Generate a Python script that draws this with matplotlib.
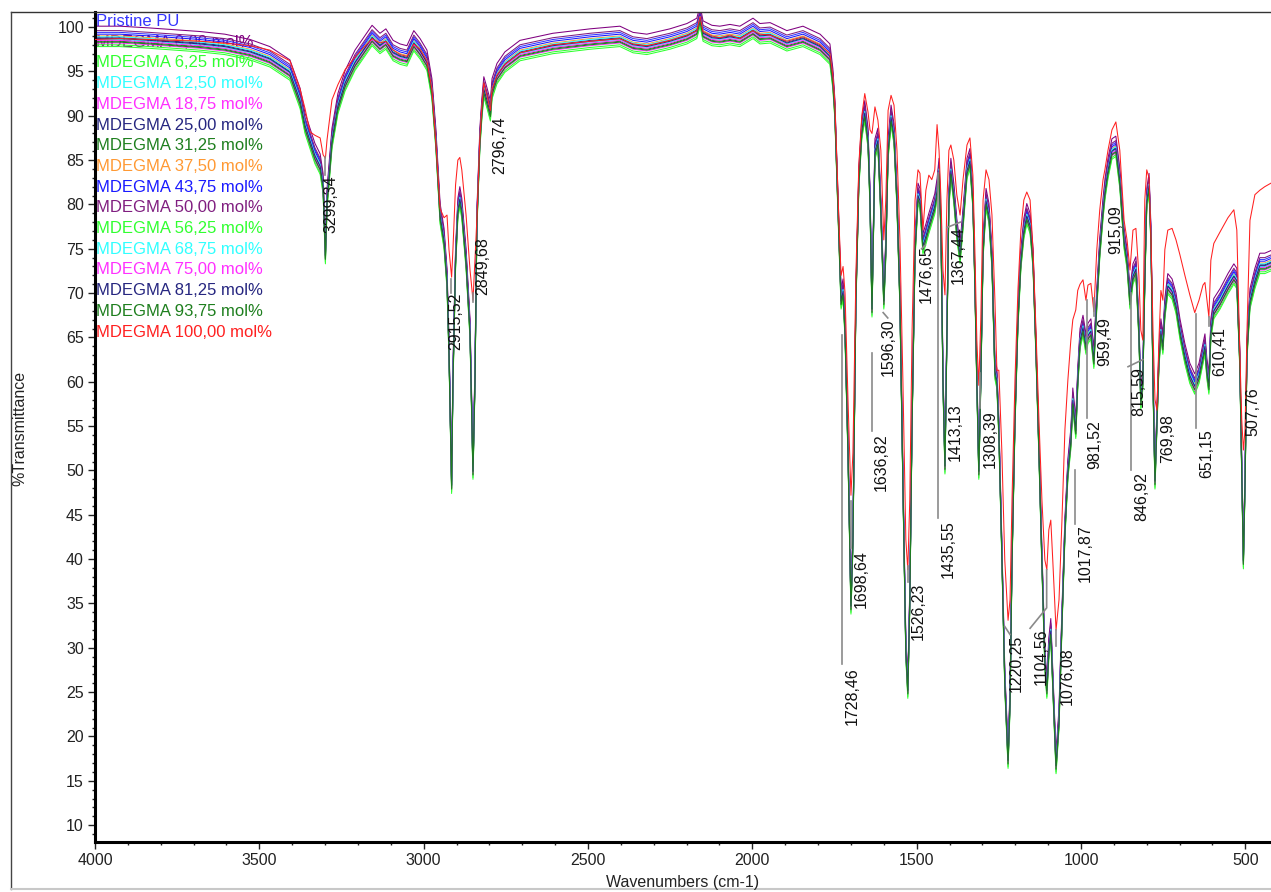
import matplotlib
matplotlib.use("Agg")
import numpy as np
import matplotlib.pyplot as plt
from matplotlib.lines import Line2D

plt.rcParams["font.family"] = ["Liberation Sans", "DejaVu Sans"]

# ---------------------------------------------------------------- data
wavenumber = [
    4000, 3924, 3833, 3757, 3681, 3605, 3528, 3468, 3407, 3376, 3361, 3346, 3331, 3315,
    3306, 3299, 3294, 3279, 3261, 3239, 3209, 3185, 3157, 3133, 3115, 3093, 3072, 3051,
    3030, 3011, 2990, 2975, 2963, 2950, 2938, 2929, 2923, 2915, 2911, 2903, 2896, 2890,
    2884, 2871, 2859, 2850, 2844, 2838, 2829, 2823, 2817, 2807, 2797, 2792, 2777, 2753,
    2707, 2607, 2494, 2403, 2363, 2321, 2251, 2199, 2169, 2159, 2150, 2123, 2099, 2068,
    2038, 1998, 1977, 1946, 1895, 1846, 1794, 1764, 1755, 1749, 1743, 1736, 1730, 1724,
    1718, 1709, 1700, 1694, 1685, 1676, 1667, 1658, 1648, 1642, 1636, 1627, 1618, 1609,
    1600, 1594, 1587, 1578, 1569, 1560, 1551, 1542, 1533, 1527, 1521, 1514, 1505, 1496,
    1490, 1481, 1472, 1463, 1454, 1445, 1438, 1432, 1426, 1420, 1414, 1408, 1402, 1396,
    1387, 1378, 1368, 1359, 1347, 1338, 1329, 1323, 1317, 1311, 1305, 1298, 1289, 1280,
    1271, 1262, 1256, 1250, 1241, 1232, 1222, 1216, 1210, 1201, 1192, 1183, 1174, 1165,
    1155, 1146, 1137, 1128, 1119, 1110, 1104, 1098, 1092, 1086, 1076, 1067, 1058, 1049,
    1040, 1031, 1025, 1016, 1010, 1003, 994, 985, 979, 970, 961, 952, 943, 933,
    927, 918, 906, 894, 882, 869, 860, 851, 842, 833, 824, 818, 812, 806,
    800, 793, 787, 781, 775, 769, 763, 757, 751, 745, 736, 723, 711, 699,
    684, 669, 654, 641, 629, 623, 617, 611, 605, 596, 577, 553, 535, 526,
    517, 511, 506, 501, 495, 486, 471, 456, 441, 422,
]

# shared trace of the PU / MDEGMA copolymer spectra (%T)
t_common = [
    98.8, 98.8, 98.6, 98.4, 98.2, 97.9, 97.3, 96.5, 95.0, 91.8, 89.0, 87.3, 85.6, 84.4,
    82.2, 74.3, 80.5, 87.3, 91.2, 93.8, 96.1, 97.4, 98.9, 98.0, 98.5, 97.2, 96.8, 96.6,
    98.3, 97.4, 96.1, 92.9, 87.3, 78.8, 76.0, 71.5, 63.6, 48.4, 60.2, 73.7, 79.4, 80.7,
    79.4, 73.7, 65.8, 50.0, 60.2, 78.2, 87.3, 90.6, 93.1, 91.8, 90.4, 92.9, 94.6, 95.9,
    97.2, 98.0, 98.5, 98.8, 98.1, 97.9, 98.5, 99.1, 99.7, 101.1, 99.4, 98.9, 98.8, 99.0,
    98.8, 99.7, 99.1, 99.2, 98.3, 98.8, 97.9, 96.8, 94.0, 90.6, 83.9, 76.0, 69.2, 70.3,
    65.8, 52.3, 34.8, 42.2, 69.2, 82.8, 88.4, 90.4, 87.3, 80.5, 68.3, 86.1, 87.3, 79.4,
    69.2, 74.9, 86.1, 89.9, 87.8, 80.5, 69.2, 48.9, 29.8, 25.3, 35.4, 55.7, 74.9, 81.1,
    80.5, 75.4, 76.5, 77.7, 78.8, 79.9, 81.6, 83.9, 77.1, 60.2, 50.6, 65.8, 80.5, 83.9,
    81.1, 77.1, 74.3, 78.2, 83.9, 85.0, 80.5, 71.5, 60.2, 50.0, 60.2, 74.9, 80.5, 78.8,
    73.7, 61.3, 60.2, 54.6, 41.0, 26.4, 17.4, 24.1, 39.9, 55.7, 67.0, 73.7, 77.1, 78.8,
    77.7, 73.7, 63.6, 52.3, 39.9, 28.6, 25.3, 29.8, 32.0, 26.4, 16.8, 21.9, 33.1, 43.3,
    50.0, 53.4, 58.0, 54.6, 60.2, 64.7, 66.2, 64.1, 65.3, 65.8, 62.5, 69.2, 74.9, 79.4,
    81.6, 83.9, 86.1, 86.4, 82.8, 76.0, 73.7, 69.2, 72.0, 72.8, 65.8, 57.9, 60.2, 71.5,
    80.5, 82.2, 76.0, 60.2, 48.9, 55.7, 62.5, 65.8, 64.1, 68.1, 70.9, 70.3, 68.7, 65.8,
    63.0, 60.8, 59.6, 60.8, 63.0, 64.1, 61.3, 59.6, 65.8, 68.1, 69.2, 70.9, 72.0, 71.5,
    62.5, 50.0, 39.9, 48.9, 63.6, 69.2, 71.5, 73.2, 73.2, 73.5,
]

# MDEGMA 100,00 mol% (%T)
t_100 = [
    98.6, 98.7, 98.6, 98.5, 98.4, 98.2, 97.9, 97.4, 96.2, 93.0, 90.8, 88.2, 87.8, 87.5,
    85.6, 85.2, 87.3, 91.8, 93.5, 95.2, 96.6, 97.6, 98.7, 98.2, 98.4, 97.4, 96.9, 96.7,
    98.1, 97.5, 96.2, 93.0, 87.0, 79.5, 78.5, 78.8, 74.9, 71.8, 74.9, 82.2, 85.0, 85.3,
    83.9, 78.8, 72.6, 69.2, 73.7, 78.5, 87.5, 91.0, 93.7, 92.2, 90.6, 93.0, 94.6, 95.8,
    97.1, 98.0, 98.4, 98.7, 98.1, 97.9, 98.5, 99.1, 99.6, 101.2, 99.5, 99.0, 98.8, 99.1,
    98.7, 99.6, 99.2, 99.1, 98.4, 98.9, 98.0, 97.0, 94.5, 91.5, 85.0, 77.5, 72.0, 73.0,
    70.0, 58.0, 47.2, 52.0, 72.0, 84.5, 90.0, 92.5, 90.4, 88.4, 88.0, 91.0, 89.5, 86.1,
    76.0, 80.5, 90.6, 92.3, 91.2, 86.1, 76.0, 60.2, 42.2, 38.8, 46.7, 65.8, 80.5, 83.9,
    83.5, 77.1, 81.6, 83.3, 82.8, 83.9, 89.0, 86.1, 80.5, 72.6, 69.8, 80.5, 86.1, 86.7,
    85.0, 81.1, 78.8, 82.8, 86.7, 87.5, 83.3, 74.9, 64.7, 59.6, 67.0, 80.5, 83.9, 82.8,
    78.8, 69.2, 61.3, 61.3, 52.3, 39.9, 33.1, 35.4, 46.7, 60.2, 70.3, 77.1, 80.5, 81.4,
    80.5, 74.9, 65.8, 55.7, 46.7, 39.9, 38.8, 43.3, 44.4, 39.9, 32.0, 35.4, 44.4, 54.6,
    60.2, 64.7, 67.0, 68.1, 70.3, 71.0, 71.5, 69.2, 70.9, 71.1, 67.9, 74.9, 79.4, 82.8,
    84.0, 86.1, 88.4, 89.3, 86.1, 78.2, 76.0, 72.6, 77.1, 77.3, 72.0, 65.8, 64.7, 80.5,
    83.9, 83.0, 76.0, 65.8, 58.0, 56.8, 64.7, 70.3, 69.2, 74.9, 77.1, 77.3, 76.0, 74.3,
    72.0, 69.8, 67.8, 69.2, 70.9, 71.2, 69.2, 67.3, 73.7, 75.6, 76.9, 78.5, 79.4, 77.1,
    63.6, 55.7, 52.3, 54.6, 65.8, 78.2, 81.1, 81.6, 82.0, 82.4,
]

series_names = [
    "Pristine PU",
    "MDEGMA 0,00 mol%", "MDEGMA 6,25 mol%", "MDEGMA 12,50 mol%", "MDEGMA 18,75 mol%",
    "MDEGMA 25,00 mol%", "MDEGMA 31,25 mol%", "MDEGMA 37,50 mol%", "MDEGMA 43,75 mol%",
    "MDEGMA 50,00 mol%", "MDEGMA 56,25 mol%", "MDEGMA 68,75 mol%", "MDEGMA 75,00 mol%",
    "MDEGMA 81,25 mol%", "MDEGMA 93,75 mol%", "MDEGMA 100,00 mol%",
]

# baseline level of each spectrum relative to the shared trace (%T)
series_level = [0.6, 1.3, -0.8, -0.2, -0.6, 0.0, -0.4, 0.2, 0.4, 0.8, -1.0, 0.1, -0.3, -0.1, -0.5]

series_colors = [
    "#3535ff", "#800080", "#30ff30", "#30ffff", "#ff30ff", "#262680", "#1e7f1e", "#ff9933",
    "#1a1aff", "#801e80", "#30ff30", "#30ffff", "#ff30ff", "#262680", "#1e7f1e", "#ff2020",
]

peak_wavenumbers = [
    3299.34, 2915.52, 2849.68, 2796.74, 1728.46, 1698.64, 1636.82, 1596.30, 1526.23,
    1476.65, 1435.55, 1413.13, 1367.44, 1308.39, 1220.25, 1104.56, 1076.08, 1017.87,
    981.52, 959.49, 915.09, 846.92, 815.59, 769.98, 651.15, 610.41, 507.76,
]

# ---------------------------------------------------------------- label layout
# (label centre wavenumber, label top %T, leader polyline or None)
label_layout = {
    3299.34: (3283, 83.3, [(3299.34, 85.4), (3299.34, 83.3)]),
    2915.52: (2902, 70.0, [(2915.52, 71.6), (2915.52, 70.0)]),
    2849.68: (2821, 76.3, [(2849.68, 70.0), (2849.68, 69.0)]),
    2796.74: (2768, 89.9, None),
    1728.46: (1697, 27.8, [(1728.46, 65.3), (1728.46, 28.2)]),
    1698.64: (1668, 41.0, [(1698.64, 46.5), (1698.64, 41.2)]),
    1636.82: (1607, 54.2, [(1636.82, 63.2), (1636.82, 54.4)]),
    1596.30: (1586, 67.2, [(1602, 67.8), (1588, 67.2)]),
    1526.23: (1495, 37.3, [(1526.23, 39.2), (1526.23, 37.4)]),
    1476.65: (1470, 75.4, [(1485, 75.0), (1474, 75.4)]),
    1435.55: (1403, 44.4, [(1435.55, 83.5), (1435.55, 44.6)]),
    1413.13: (1384, 57.6, None),
    1367.44: (1373, 77.5, [(1408, 77.4), (1367.44, 78.0)]),
    1308.39: (1277, 56.8, [(1308.39, 61.0), (1308.39, 57.0)]),
    1220.25: (1196, 31.5, [(1232, 32.4), (1216, 31.5)]),
    1104.56: (1120, 32.2, [(1104.56, 38.8), (1104.56, 34.5), (1155, 32.2)]),
    1076.08: (1041, 30.1, [(1076.08, 32.0), (1076.08, 30.2)]),
    1017.87: (988, 43.9, [(1017.87, 50.0), (1017.87, 44.0)]),
    981.52: (958, 55.7, [(981.52, 69.2), (981.52, 55.9)]),
    959.49: (927, 67.3, [(959.49, 69.4), (959.49, 67.4)]),
    915.09: (894, 79.9, None),
    846.92: (816, 49.8, [(846.92, 70.0), (846.92, 50.0)]),
    815.59: (824, 61.7, [(857, 61.7), (812, 62.5)]),
    769.98: (737, 56.3, None),
    651.15: (616, 54.6, [(651.15, 67.6), (651.15, 54.8)]),
    610.41: (578, 66.2, [(610.41, 67.3), (610.41, 66.3)]),
    507.76: (476, 59.4, None),
}

# ---------------------------------------------------------------- figure
W, H = 1271, 892
fig = plt.figure(figsize=(W / 100, H / 100), dpi=100)
fig.patch.set_facecolor("white")
ax = fig.add_axes([95 / W, 50 / H, 1176 / W, 830 / H])

wn = np.array(wavenumber, dtype=float)
base = np.array(t_common, dtype=float)

for name, color, level in zip(series_names[:-1], series_colors[:-1], series_level):
    ax.plot(wn, base + level, color=color, lw=0.75, zorder=2)
ax.plot(wn, t_100, color=series_colors[-1], lw=0.75, zorder=3)

ax.set_xlim(4000, 422)
ax.set_ylim(8.1, 101.7)

for side in ("top", "right"):
    ax.spines[side].set_visible(False)
for side in ("left", "bottom"):
    ax.spines[side].set_linewidth(2.2)
    ax.spines[side].set_color("black")

ax.set_xticks(np.arange(500, 4001, 500))
ax.set_xticks(np.arange(500, 4001, 100), minor=True)
ax.set_yticks(np.arange(10, 101, 5))
ax.set_yticks(np.arange(9, 102, 1), minor=True)
ax.tick_params(which="major", length=5, width=1, labelsize=11.5, colors="#222222", pad=3)
ax.tick_params(which="minor", length=2.5, width=1, colors="#222222")

fig.text(20 / W, 1 - 428 / H, "%Transmittance", rotation=90, ha="center", va="center",
         fontsize=11.5, color="#222222")
fig.text(683 / W, 1 - 882 / H, "Wavenumbers (cm-1)", ha="center", va="center",
         fontsize=11.5, color="#222222")

# series names stacked in the upper-left corner
for i, (name, color) in enumerate(zip(series_names, series_colors)):
    yc = 21.6 + 20.7 * i
    ax.text(1.5 / 1176, (842 - yc) / 830, name, transform=ax.transAxes, color=color,
            fontsize=12, ha="left", va="center", zorder=1)

# peak annotations
for pk in peak_wavenumbers:
    tx, ty, leader = label_layout[pk]
    if leader is not None:
        xs, ys = zip(*leader)
        ax.plot(xs, ys, color="#8a8a8a", lw=1.2, zorder=4)
    ax.text(tx, ty, f"{pk:.2f}".replace(".", ","), rotation=90, ha="center", va="top",
            fontsize=11.5, color="#111111", zorder=5)

# outer window frame
fig.add_artist(Line2D([11 / W, 1], [1 - 12 / H, 1 - 12 / H], transform=fig.transFigure,
                      color="#333333", lw=1))
fig.add_artist(Line2D([11 / W, 11 / W], [1 - 12 / H, 1 - 889 / H], transform=fig.transFigure,
                      color="#444444", lw=1))
fig.add_artist(Line2D([11 / W, 1], [1 - 889 / H, 1 - 889 / H], transform=fig.transFigure,
                      color="#c8c8c8", lw=1.5))

fig.savefig("out.png", dpi=100)
